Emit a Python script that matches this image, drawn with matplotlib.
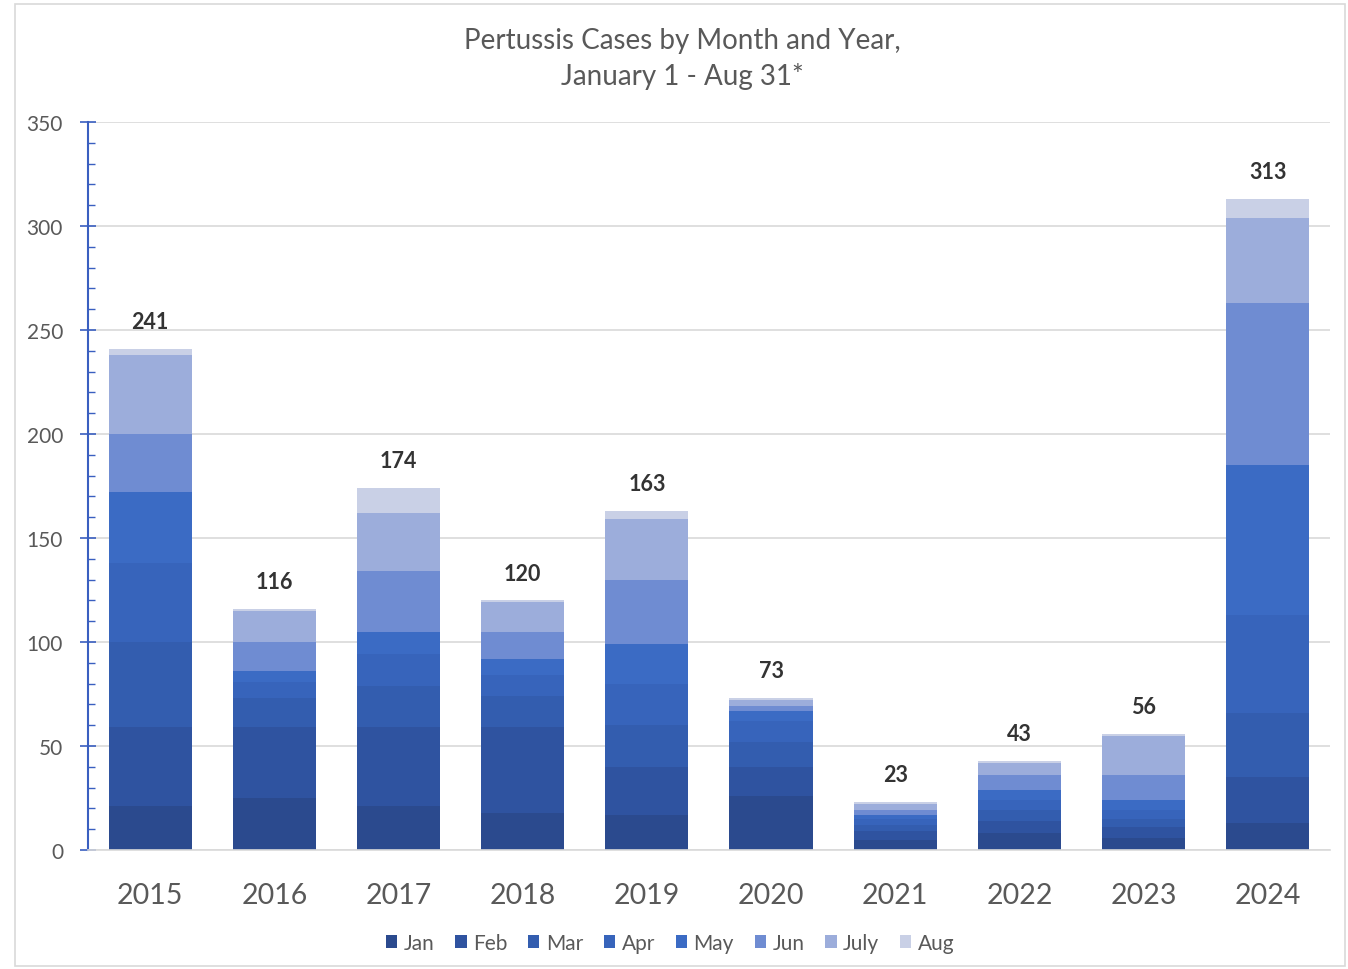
import numpy as np
import matplotlib.pyplot as plt
from matplotlib.patches import Rectangle

plt.rcParams['font.family'] = ['Lato', 'DejaVu Sans']

YEARS = ['2015', '2016', '2017', '2018', '2019', '2020', '2021', '2022', '2023', '2024']
MONTHS = ['Jan', 'Feb', 'Mar', 'Apr', 'May', 'Jun', 'July', 'Aug']

# cases per month, one list per month, one entry per year
JAN = [21, 25, 21, 18, 17, 26, 5, 8, 6, 13]
FEB = [38, 34, 38, 41, 23, 14, 4, 6, 5, 22]
MAR = [41, 14, 20, 15, 20, 12, 3, 5, 4, 31]
APR = [38, 8, 15, 10, 20, 10, 3, 5, 4, 47]
MAY = [34, 5, 11, 8, 19, 5, 2, 5, 5, 72]
JUN = [28, 14, 29, 13, 31, 2, 2, 7, 12, 78]
JULY = [38, 15, 28, 14, 29, 3, 3, 6, 19, 41]
AUG = [3, 1, 12, 1, 4, 1, 1, 1, 1, 9]

COLORS = ['#2b4a8e', '#2f53a0', '#335daf', '#3764bb', '#3b6bc4',
          '#6f8cd2', '#9caddb', '#c9d0e6']

series = [JAN, FEB, MAR, APR, MAY, JUN, JULY, AUG]

fig = plt.figure(figsize=(13.48, 9.70), dpi=100)
fig.patches.append(Rectangle((0.011, 0.003), 0.987, 0.992, transform=fig.transFigure,
                             fill=False, edgecolor='#d9d9d9', lw=1.2))
ax = fig.add_axes([0.0653, 0.1227, 0.9213, 0.7505])

x = np.arange(len(YEARS))
bottom = np.zeros(len(YEARS))
for month, values, color in zip(MONTHS, series, COLORS):
    ax.bar(x, values, width=0.67, bottom=bottom, color=color, label=month,
           edgecolor='none', zorder=2)
    bottom += np.array(values)

for xi, total in zip(x, bottom):
    ax.annotate(f'{int(total)}', (xi, total), xytext=(0, 12), textcoords='offset points',
                ha='center', va='bottom', fontsize=15.5, fontweight='bold', color='#333333')

ax.set_xlim(-0.5, 9.5)
ax.set_ylim(0, 350)
ax.set_yticks(np.arange(0, 351, 50))
ax.set_yticks(np.arange(0, 351, 10), minor=True)
ax.set_xticks(x)
ax.set_xticklabels(YEARS, fontsize=20.5, color='#595959')
ax.tick_params(axis='x', length=0, pad=23)
ax.tick_params(axis='y', which='major', direction='inout', length=12, width=1.2,
               color='#3a5fc0', labelsize=15, labelcolor='#595959', pad=12)
ax.tick_params(axis='y', which='minor', direction='in', length=5, width=1,
               color='#3a5fc0')
ax.yaxis.grid(True, which='major', color='#d9d9d9', lw=1.2, zorder=0)
ax.set_axisbelow(True)
for side in ['top', 'right']:
    ax.spines[side].set_visible(False)
ax.spines['left'].set_color('#3a5fc0')
ax.spines['left'].set_linewidth(1.5)
ax.spines['bottom'].set_color('#d9d9d9')
ax.spines['bottom'].set_linewidth(1.2)

fig.text(0.506, 0.939, 'Pertussis Cases by Month and Year,\nJanuary 1 - Aug 31*',
         ha='center', va='center', fontsize=20, color='#595959', linespacing=1.42)

fig.legend(loc='center', bbox_to_anchor=(0.497, 0.027), ncol=8, frameon=False,
           fontsize=15, handlelength=0.55, handleheight=0.55, handletextpad=0.3,
           columnspacing=1.0, labelcolor='#595959')

fig.savefig('out.png', dpi=100)
